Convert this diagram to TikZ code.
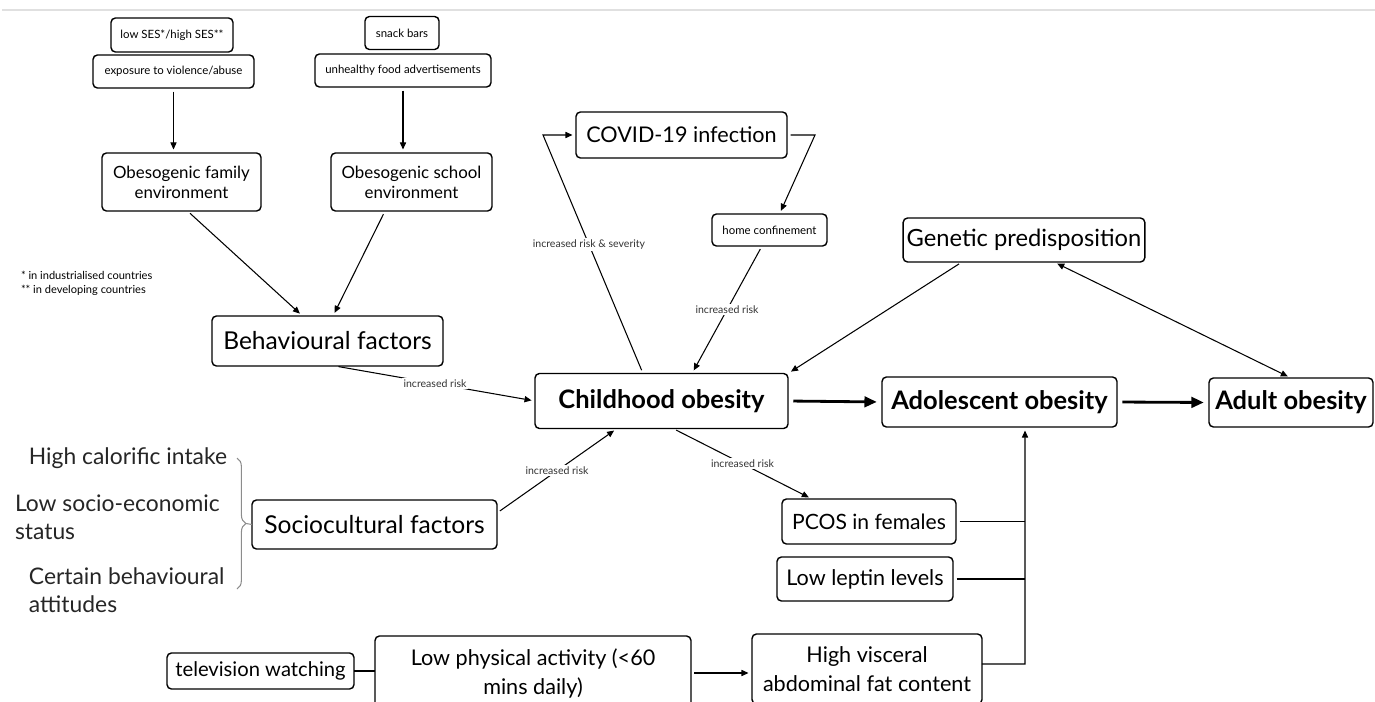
\documentclass[tikz,border=0pt]{standalone}
\usepackage{fontspec}
\setmainfont{Lato}
\usetikzlibrary{arrows.meta,decorations.pathreplacing}

\begin{document}
\begin{tikzpicture}[x=0.02cm, y=-0.02cm, line join=miter,
    every node/.style={outer sep=0pt},
    box/.style={draw, rounded corners=2.5pt, line width=0.8pt, align=center, inner sep=2pt},
    bigbox/.style={box, font=\fontsize{14.5}{16}\selectfont\bfseries},
    midbox/.style={box, font=\fontsize{14}{16.5}\selectfont},
    medbox/.style={box, font=\fontsize{12.3}{16.5}\selectfont},
    envbox/.style={box, font=\fontsize{9.6}{11.5}\selectfont},
    smallbox/.style={box, font=\fontsize{6.5}{8}\selectfont},
    side/.style={font=\fontsize{13}{16}\selectfont, text=black!85, inner sep=0pt},
    legend/.style={font=\fontsize{6.3}{8}\selectfont, align=left, inner sep=0pt},
    risk/.style={fill=white, inner sep=1pt, font=\fontsize{6}{7}\selectfont, text=black!80},
    link/.style={-{Triangle[length=4pt, width=3.5pt]}, line width=0.6pt, shorten <=2pt, shorten >=2pt},
    both/.style={link, {Triangle[length=4pt, width=3.5pt]}-{Triangle[length=4pt, width=3.5pt]}},
    big link/.style={-{Triangle[length=7pt, width=6pt]}, line width=1.6pt, shorten <=3pt, shorten >=3pt}]

    \useasboundingbox (0,0) rectangle (1375,702);
    \draw[black!12, line width=0.6pt] (2,10) -- (1375,10);

    % family and school
    \node[smallbox, minimum width=2.44cm, minimum height=0.68cm] (ses) at (172,35) {low SES*/high SES**};
    \node[smallbox, minimum width=3.22cm, minimum height=0.66cm] (exp) at (173.5,71.5) {exposure to violence/abuse};
    \node[smallbox, minimum width=1.48cm, minimum height=0.66cm] (snack) at (402,33) {snack bars};
    \node[smallbox, minimum width=3.52cm, minimum height=0.66cm] (adv) at (403,70.5) {unhealthy food advertisements};
    \node[envbox, minimum width=3.18cm, minimum height=1.16cm] (fam) at (181.5,182) {Obesogenic family\\environment};
    \node[envbox, minimum width=3.22cm, minimum height=1.16cm] (sch) at (411.5,182) {Obesogenic school\\environment};
    \node[legend, anchor=north west] (leg) at (21,271) {* in industrialised countries\\** in developing countries};
    \node[midbox, minimum width=4.62cm, minimum height=1cm] (beh) at (327.5,341) {Behavioural factors};

    % covid
    \node[medbox, minimum width=4.22cm, minimum height=0.92cm] (covid) at (681.5,135) {COVID-19 infection};
    \node[smallbox, minimum width=2.3cm, minimum height=0.64cm] (home) at (769.5,230) {home confinement};
    \node[box, font=\fontsize{13.5}{16}\selectfont, minimum width=4.6cm, minimum height=0.88cm] (gen) at (1024,240) {Genetic predisposition};

    % obesity chain
    \node[bigbox, minimum width=5.06cm, minimum height=1.1cm] (child) at (661.5,401) {Childhood obesity};
    \node[bigbox, minimum width=4.7cm, minimum height=1cm] (adol) at (999.5,402) {Adolescent obesity};
    \node[bigbox, minimum width=3.28cm, minimum height=0.98cm] (adult) at (1291,402.5) {Adult obesity};

    % sociocultural
    \node[side, anchor=east] (cal) at (227,458) {High calorific intake};
    \node[side, anchor=west, align=left] (low) at (15,517) {Low socio-economic\\status};
    \node[side, anchor=west, align=left] (att) at (29,590) {Certain behavioural\\attitudes};
    \node[midbox, minimum width=4.9cm, minimum height=0.98cm] (socio) at (374.5,524.5) {Sociocultural factors};

    % lower right
    \node[medbox, font=\fontsize{12}{14}\selectfont, minimum width=3.48cm, minimum height=0.9cm] (pcos) at (869,521.5) {PCOS in females};
    \node[medbox, minimum width=3.52cm, minimum height=0.88cm] (lept) at (865,579) {Low leptin levels};
    \node[box, font=\fontsize{11.5}{13}\selectfont, minimum width=3.74cm, minimum height=0.72cm] (tv) at (260.5,671) {television watching};
    \node[medbox, minimum width=6.32cm, minimum height=1.48cm] (lowpa) at (533,673) {Low physical activity (<60\\mins daily)};
    \node[medbox, minimum width=4.6cm, minimum height=1.4cm] (visc) at (867,669) {High visceral\\abdominal fat content};

    \coordinate (cvbend) at (543,135);
    \coordinate (hmbend) at (815,135);
    \coordinate (trunk) at (1025,664);

    % connectors
    \draw[link] (exp.south) -- (exp.south |- fam.north);
    \draw[link] (adv.south) -- (adv.south |- sch.north);
    \draw[link] ([xshift=0.12cm]fam.south) -- ([xshift=-0.5cm]beh.north);
    \draw[link] ([xshift=-0.53cm]sch.south) -- ([xshift=0.11cm]beh.north);
    \draw[link] ([xshift=0.15cm]beh.south) -- node[risk] {increased risk} (child.west);
    \draw[link] ([yshift=0.23cm]socio.east) -- node[risk] {increased risk} ([xshift=-0.89cm]child.south);
    \draw[link] ([xshift=-0.37cm]child.north) -- node[risk, pos=0.54] {increased risk \& severity} (cvbend) -- (covid.west);
    \draw[link] (covid.east) -- (hmbend) -- ([xshift=0.2cm]home.north);
    \draw[link] ([xshift=-0.15cm]home.south) -- node[risk] {increased risk} ([xshift=0.61cm]child.north);
    \draw[link] ([xshift=-1.24cm]gen.south) -- (child.north east);
    \draw[both] ([xshift=0.6cm]gen.south) -- (adult.north);
    \draw[big link] (child.east) -- (adol.west);
    \draw[big link] (adol.east) -- (adult.west);
    \draw[link] ([xshift=0.23cm]child.south) -- node[risk] {increased risk} ([xshift=-1.14cm]pcos.north);
    \draw[line width=0.6pt, shorten <=2pt] (pcos.east) -- (pcos.east -| trunk);
    \draw[line width=0.6pt, shorten <=2pt] (lept.east) -- (lept.east -| trunk);
    \draw[link, shorten <=0pt] ([yshift=0.1cm]visc.east) -- (trunk) -- (trunk |- adol.south);
    \draw[link] (lowpa.east) -- (lowpa.east -| visc.west);
    \draw[line width=0.8pt] (tv.east) -- (tv.east -| lowpa.west);

    % brace
    \draw[black!45, line width=0.6pt, decorate, decoration={brace, amplitude=5pt}] (237,458) -- (237,589);
    \coordinate (tip) at (246,523.5);
    \draw[black!45, line width=0.6pt] (tip) -- (socio.west);
\end{tikzpicture}
\end{document}
